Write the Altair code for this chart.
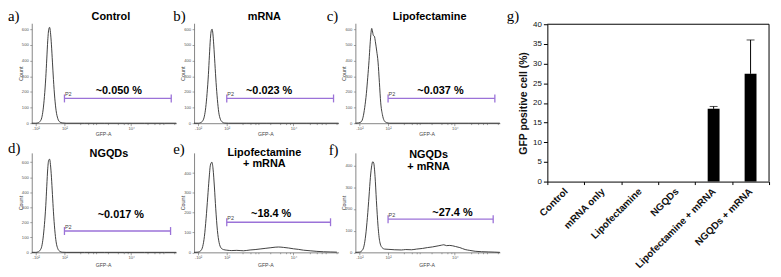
import math
import altair as alt
import pandas as pd

# ---------------- data ----------------
# histogram curves: x in display decades (biexponential GFP-A axis), y = Count
a_u = [1.02, 1.14, 1.22, 1.27, 1.32, 1.36, 1.40, 1.44, 1.47, 1.50, 1.53, 1.555, 1.58, 1.61, 1.64, 1.67, 1.71, 1.75, 1.80, 1.86, 1.93, 2.05, 2.6, 3.2, 3.8, 4.4, 5.0, 5.35]
a_count = [0, 0, 3, 12, 35, 85, 170, 290, 410, 530, 600, 612, 580, 500, 390, 280, 160, 80, 30, 8, 2, 0, 0, 0, 0, 0, 0, 0]

b_u = [1.02, 1.15, 1.22, 1.28, 1.33, 1.37, 1.41, 1.45, 1.48, 1.51, 1.535, 1.56, 1.585, 1.61, 1.645, 1.68, 1.72, 1.76, 1.81, 1.87, 1.94, 2.05, 2.6, 3.2, 3.8, 4.4, 5.0, 5.35]
b_count = [0, 0, 4, 15, 45, 100, 190, 310, 430, 540, 590, 600, 570, 500, 380, 260, 150, 70, 25, 7, 1, 0, 0, 0, 0, 0, 0, 0]

c_u = [1.02, 1.12, 1.20, 1.25, 1.30, 1.35, 1.39, 1.43, 1.46, 1.49, 1.51, 1.53, 1.56, 1.59, 1.62, 1.66, 1.70, 1.74, 1.78, 1.83, 1.88, 1.95, 2.05, 2.6, 3.2, 3.8, 4.4, 5.0, 5.35]
c_count = [0, 2, 10, 38, 100, 190, 290, 400, 500, 580, 605, 590, 560, 555, 520, 460, 390, 260, 130, 55, 18, 4, 0, 0, 0, 0, 0, 0, 0]

d_u = [1.02, 1.14, 1.21, 1.27, 1.32, 1.36, 1.40, 1.44, 1.47, 1.50, 1.53, 1.555, 1.58, 1.61, 1.64, 1.67, 1.71, 1.75, 1.80, 1.86, 1.93, 2.05, 2.6, 3.2, 3.8, 4.4, 5.0, 5.35]
d_count = [0, 0, 3, 14, 40, 95, 185, 310, 440, 560, 615, 620, 585, 500, 385, 270, 150, 70, 25, 7, 1, 0, 0, 0, 0, 0, 0, 0]

e_u = [1.02, 1.14, 1.22, 1.28, 1.33, 1.38, 1.43, 1.47, 1.51, 1.555, 1.59, 1.63, 1.67, 1.72, 1.77, 1.83, 1.90, 2.00, 2.15, 2.30, 2.50, 2.70, 2.85, 3.00, 3.15, 3.30, 3.45, 3.55, 3.70, 3.85, 4.00, 4.15, 4.30, 4.50, 4.70, 4.90, 5.10, 5.30]
e_count = [0, 1, 8, 30, 80, 170, 280, 370, 440, 455, 420, 330, 220, 110, 50, 22, 14, 11, 9, 10, 8, 12, 14, 17, 20, 23, 26, 27, 25, 22, 18, 15, 11, 8, 5, 3, 2, 1]

f_u = [1.02, 1.14, 1.22, 1.28, 1.33, 1.38, 1.43, 1.47, 1.51, 1.54, 1.57, 1.61, 1.65, 1.70, 1.75, 1.82, 1.90, 2.00, 2.20, 2.40, 2.53, 2.70, 2.85, 3.03, 3.18, 3.33, 3.50, 3.60, 3.67, 3.75, 3.85, 4.02, 4.15, 4.31, 4.45, 4.61, 4.80, 5.00, 5.20, 5.35]
f_count = [0, 1, 8, 30, 80, 160, 260, 345, 400, 418, 412, 350, 240, 120, 50, 22, 15, 14, 12, 11, 13, 12, 15, 18, 22, 25, 30, 33, 35, 31, 32, 27, 22, 13, 9, 5, 3, 2, 1, 0]

# gate P2 (left, right, level) and percentages
gate_a = (2.0, 5.2, 158)
gate_b = (2.0, 5.2, 158)
gate_c = (2.0, 5.2, 158)
gate_d = (2.0, 5.18, 142)
gate_e = (2.0, 5.11, 152)
gate_f = (2.0, 5.15, 153)
pct_labels = ["~0.050 %", "~0.023 %", "~0.037 %", "~0.017 %", "~18.4 %", "~27.4 %"]

# x-axis tick labels of the histograms
gfp_major_values = [1.14, 1.55, 2, 3, 4, 5]
gfp_major_labels = ["-10²", "0", "10²", "10³", "10⁴", "10⁵"]

# bar chart g)
bar_categories = ["Control", "mRNA only", "Lipofectamine", "NGQDs", "Lipofectamine + mRNA", "NGQDs + mRNA"]
bar_values = [0, 0, 0, 0, 18.5, 27.4]
bar_errors = [0, 0, 0, 0, 0.6, 8.6]
bar_ticks = [0, 5, 10, 15, 20, 25, 30, 35, 40]

# ---------------- layout / style ----------------
W, H = 773, 269
SANS = "Liberation Sans"
SERIF = "Liberation Serif"
PURPLE = "#9b72d8"
AX = "#666666"
LAB = "#555555"
U_DOMAIN = [1.02, 5.35]
PANEL_W = 146

minor_vals = [round(k + math.log10(m), 4) for k in (2, 3, 4) for m in range(2, 10)] + [round(5 + math.log10(2), 4)]
x_tick_values = gfp_major_values + minor_vals
is_major = " || ".join(f"abs(datum.value - {v}) < 0.001" for v in gfp_major_values)
label_expr = "".join(f"abs(datum.value - {v}) < 0.001 ? '{l}' : " for v, l in zip(gfp_major_values, gfp_major_labels)) + "''"

ONE = alt.Data(values=[{"k": 0}])

panels = [
    dict(letter="a)", letter_xy=(0, 12), title=["Control"], title_xy=(104, 11), lh=11,
         u=a_u, c=a_count, x0=24, yb=115, yt=14, ymax=638, yticks=list(range(0, 601, 100)),
         gate=gate_a, pct=pct_labels[0], pct_at=(3.63, 208), xdy=10),
    dict(letter="b)", letter_xy=(167, 12), title=["mRNA"], title_xy=(259, 11), lh=11,
         u=b_u, c=b_count, x0=188, yb=115, yt=14, ymax=638, yticks=list(range(0, 601, 100)),
         gate=gate_b, pct=pct_labels[1], pct_at=(3.27, 208), xdy=10),
    dict(letter="c)", letter_xy=(322, 12), title=["Lipofectamine"], title_xy=(426, 11), lh=11,
         u=c_u, c=c_count, x0=351, yb=115, yt=14, ymax=638, yticks=list(range(0, 601, 100)),
         gate=gate_c, pct=pct_labels[2], pct_at=(3.57, 208), xdy=10),
    dict(letter="d)", letter_xy=(0, 145), title=["NGQDs"], title_xy=(102, 149), lh=11,
         u=d_u, c=d_count, x0=24, yb=245.5, yt=145, ymax=662, yticks=list(range(0, 601, 100)),
         gate=gate_d, pct=pct_labels[3], pct_at=(3.69, 247), xdy=12),
    dict(letter="e)", letter_xy=(167, 146), title=["Lipofectamine", "+ mRNA"], title_xy=(259, 148), lh=11,
         u=e_u, c=e_count, x0=188, yb=245.5, yt=145, ymax=502, yticks=list(range(0, 451, 50)),
         gate=gate_e, pct=pct_labels[4], pct_at=(3.33, 192), xdy=12),
    dict(letter="f)", letter_xy=(324, 147), title=["NGQDs", "+ mRNA"], title_xy=(425, 150), lh=12,
         u=f_u, c=f_count, x0=351, yb=245.5, yt=145, ymax=459, yticks=list(range(0, 451, 50)),
         gate=gate_f, pct=pct_labels[5], pct_at=(3.93, 180), xdy=12),
]


def text_at(txt, x, y, **kw):
    return alt.Chart(ONE).mark_text(**kw).encode(
        x=alt.value(x), y=alt.value(y), text=alt.value(txt))


def hist_panel(p):
    xs = alt.Scale(domain=U_DOMAIN, range=[p["x0"], p["x0"] + PANEL_W], nice=False, zero=False)
    ys = alt.Scale(domain=[0, p["ymax"]], range=[p["yb"], p["yt"]], nice=False, zero=False)
    xaxis = alt.Axis(
        orient="bottom", offset=p["yb"] - H, values=x_tick_values, labelExpr=label_expr,
        grid=False, labelFlush=False, labelOverlap=False,
        tickSize={"condition": {"test": is_major, "value": 2.5}, "value": 1.4},
        tickColor=AX, tickWidth=0.6, domainColor=AX, domainWidth=0.8,
        labelFont=SANS, labelFontSize=4.2, labelColor=LAB, labelPadding=0.5,
        title="GFP-A", titleFont=SANS, titleFontSize=5.2, titleFontWeight="normal", titleColor="#444",
        titleX=p["x0"] + 72, titleY=p["xdy"], titleAlign="center", titleBaseline="middle",
    )
    yaxis = alt.Axis(
        orient="left", offset=-p["x0"], values=p["yticks"], grid=False,
        labelFlush=False, labelOverlap=False,
        tickSize=2, tickColor=AX, tickWidth=0.6, domainColor=AX, domainWidth=0.8,
        labelFont=SANS, labelFontSize=4.2, labelColor=LAB, labelPadding=1.5,
        title="Count", titleFont=SANS, titleFontSize=5.5, titleFontWeight="normal", titleColor="#444",
        titleX=-11.5, titleY=(p["yb"] + p["yt"]) / 2, titleAngle=270,
        titleAlign="center", titleBaseline="middle",
    )
    curve = alt.Chart(pd.DataFrame({"u": p["u"], "count": p["c"]})).mark_line(
        color="#2b2b2b", strokeWidth=0.9, interpolate="monotone"
    ).encode(x=alt.X("u:Q", scale=xs, axis=xaxis), y=alt.Y("count:Q", scale=ys, axis=yaxis))

    gl, gr, gy = p["gate"]
    cap = 4 * p["ymax"] / (p["yb"] - p["yt"])
    gate_line = alt.Chart(pd.DataFrame({"u": [gl], "u2": [gr], "count": [gy]})).mark_rule(
        color=PURPLE, strokeWidth=1.3
    ).encode(x=alt.X("u:Q", scale=xs), x2="u2:Q", y=alt.Y("count:Q", scale=ys))
    caps = alt.Chart(pd.DataFrame({"u": [gl, gr], "count": [gy - cap] * 2, "hi": [gy + cap] * 2})).mark_rule(
        color=PURPLE, strokeWidth=1.3
    ).encode(x=alt.X("u:Q", scale=xs), y=alt.Y("count:Q", scale=ys), y2="hi:Q")
    p2 = alt.Chart(pd.DataFrame({"u": [gl], "count": [gy], "t": ["P2"]})).mark_text(
        font=SANS, fontSize=5.5, color="#444", align="left", baseline="bottom", dx=0.5, dy=-1
    ).encode(x=alt.X("u:Q", scale=xs), y=alt.Y("count:Q", scale=ys), text="t:N")
    pct = alt.Chart(pd.DataFrame({"u": [p["pct_at"][0]], "count": [p["pct_at"][1]], "t": [p["pct"]]})).mark_text(
        font=SANS, fontSize=11, fontWeight="bold", color="black", align="center", baseline="middle"
    ).encode(x=alt.X("u:Q", scale=xs), y=alt.Y("count:Q", scale=ys), text="t:N")

    panel = alt.layer(curve, gate_line, caps, p2, pct)
    title = text_at(p["title"] if len(p["title"]) > 1 else p["title"][0], p["title_xy"][0], p["title_xy"][1],
                    font=SANS, fontSize=11, fontWeight="bold", color="black", align="center",
                    baseline="alphabetic", lineHeight=p["lh"])
    letter = text_at(p["letter"], p["letter_xy"][0], p["letter_xy"][1], font=SERIF, fontSize=15,
                     color="black", align="left", baseline="alphabetic")
    return [panel, title, letter]


# ---------------- bar chart g) ----------------
BX0, BX1, BY0, BY1 = 545, 769, 174, 15
bar_df = pd.DataFrame({"cat": bar_categories, "val": bar_values, "err": bar_errors})
bx = alt.Scale(domain=bar_categories, range=[BX0, BX1], paddingInner=0, paddingOuter=0)
by = alt.Scale(domain=[0, 40], range=[BY0, BY1], nice=False, zero=True)

bars = alt.Chart(bar_df).mark_bar(color="black", width=12).encode(
    x=alt.X("cat:N", scale=bx, sort=bar_categories, axis=alt.Axis(
        orient="bottom", offset=BY0 - H, tickBand="extent", title=None, grid=False,
        labelAngle=315, labelAlign="right", labelBaseline="middle", labelPadding=5,
        labelFont=SANS, labelFontSize=10, labelFontWeight="bold", labelColor="#111",
        labelLimit=0, labelOverlap=False, labelFlush=False,
        tickSize=3, tickColor="black", domainColor="black", domainWidth=1)),
    y=alt.Y("val:Q", scale=by, axis=alt.Axis(
        orient="left", offset=-BX0, values=bar_ticks, tickCount=9, grid=False,
        labelOverlap=False, labelFlush=False,
        labelFont=SANS, labelFontSize=8, labelColor="#111", labelPadding=2,
        tickSize=4, tickColor="black", domainColor="black", domainWidth=1,
        title="GFP positive cell (%)", titleFont=SANS, titleFontSize=10.5, titleFontWeight="bold",
        titleColor="#111", titleX=-24, titleY=(BY0 + BY1) / 2, titleAngle=270,
        titleAlign="center", titleBaseline="middle")),
)
err_base = alt.Chart(bar_df).transform_filter("datum.err > 0").transform_calculate(top="datum.val + datum.err")
err_rule = err_base.mark_rule(color="black", strokeWidth=1).encode(
    x=alt.X("cat:N", scale=bx, sort=bar_categories),
    y=alt.Y("val:Q", scale=by), y2="top:Q")
err_cap = err_base.mark_tick(color="black", size=8, thickness=1).encode(
    x=alt.X("cat:N", scale=bx, sort=bar_categories),
    y=alt.Y("top:Q", scale=by))
frame_top = alt.Chart(ONE).mark_rule(color="black", strokeWidth=1).encode(
    x=alt.value(BX0), x2=alt.value(BX1), y=alt.Y(datum=40, scale=by))
frame_right = alt.Chart(ONE).mark_rule(color="black", strokeWidth=1).encode(
    x=alt.value(BX1), y=alt.Y(datum=0, scale=by), y2=alt.datum(40))
bar_panel = alt.layer(bars, err_rule, err_cap, frame_top, frame_right)
letter_g = text_at("g)", 504, 12, font=SERIF, fontSize=15, color="black", align="left", baseline="alphabetic")

layers = []
for p in panels:
    layers += hist_panel(p)
layers += [bar_panel, letter_g]

chart = alt.layer(*layers).resolve_scale(x="independent", y="independent").properties(
    width=W, height=H, autosize=alt.AutoSizeParams(type="none"), padding=0
).configure_view(stroke=None)

chart.save("out.html", embed_options={"renderer": "svg", "actions": False})
